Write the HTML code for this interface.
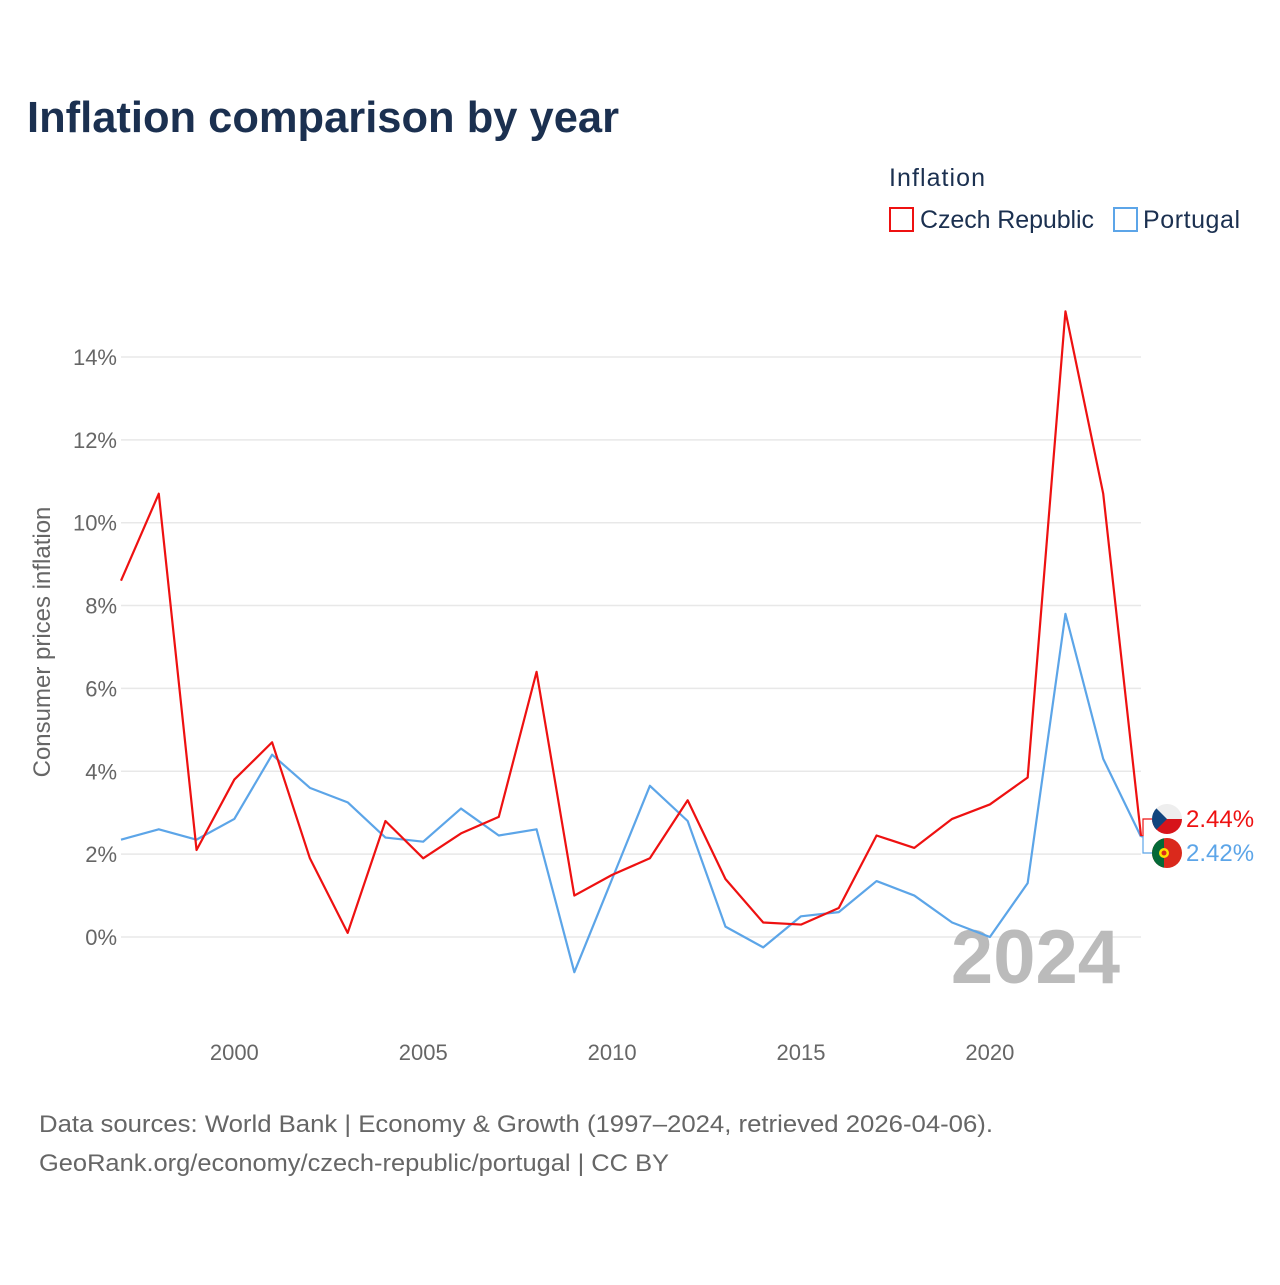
<!DOCTYPE html>
<html><head><meta charset="utf-8"><style>
body{margin:0;background:#fff;width:1280px;height:1280px;overflow:hidden;font-family:"Liberation Sans",sans-serif}
</style></head><body>
<svg width="1280" height="1280">
<text x="27" y="132" font-size="44" font-weight="bold" fill="#1b3050" textLength="592" lengthAdjust="spacingAndGlyphs">Inflation comparison by year</text>
<text x="889" y="186" font-size="25" fill="#1b3050" textLength="96">Inflation</text>
<g><rect x="890" y="208" width="23" height="23" fill="none" stroke="#ee1111" stroke-width="2"/><text x="920" y="228" font-size="25" fill="#1b3050" textLength="174">Czech Republic</text></g>
<g><rect x="1114" y="208" width="23" height="23" fill="none" stroke="#5ca5e8" stroke-width="2"/><text x="1143" y="228" font-size="25" fill="#1b3050" textLength="97">Portugal</text></g>
<text transform="translate(50,642) rotate(-90)" text-anchor="middle" font-size="24" fill="#666">Consumer prices inflation</text>
<g id="grid"></g><g id="yt"></g><g id="xt"></g>
<text x="1120" y="983" text-anchor="end" font-size="76" font-weight="bold" fill="#bbb">2024</text>
<g id="lines"></g>
<text x="39" y="1132" font-size="24" fill="#666" textLength="954" lengthAdjust="spacingAndGlyphs">Data sources: World Bank | Economy &amp; Growth (1997–2024, retrieved 2026-04-06).</text>
<text x="39" y="1171" font-size="24" fill="#666" textLength="630" lengthAdjust="spacingAndGlyphs">GeoRank.org/economy/czech-republic/portugal | CC BY</text>
</svg>
<script>
const years=[1997,1998,1999,2000,2001,2002,2003,2004,2005,2006,2007,2008,2009,2010,2011,2012,2013,2014,2015,2016,2017,2018,2019,2020,2021,2022,2023,2024];
const czech=[8.6,10.7,2.1,3.8,4.7,1.9,0.1,2.8,1.9,2.5,2.9,6.4,1.0,1.5,1.9,3.3,1.4,0.35,0.3,0.7,2.45,2.15,2.85,3.2,3.85,15.1,10.7,2.44];
const portugal=[2.35,2.6,2.35,2.85,4.4,3.6,3.25,2.4,2.3,3.1,2.45,2.6,-0.85,1.4,3.65,2.8,0.25,-0.25,0.5,0.6,1.35,1.0,0.35,0.0,1.3,7.8,4.3,2.42];
const yTicks=[0,2,4,6,8,10,12,14];
const xTicks=[2000,2005,2010,2015,2020];
const NS="http://www.w3.org/2000/svg";
const X=y=>121+(y-1997)*(1141-121)/27;
const Y=v=>937-v*41.43;
function mk(t,a,p){const e=document.createElementNS(NS,t);for(const k in a)e.setAttribute(k,a[k]);p.appendChild(e);return e;}
const grid=document.getElementById('grid'),yt=document.getElementById('yt'),xt=document.getElementById('xt'),lines=document.getElementById('lines');
yTicks.forEach(v=>{
 const l=mk('line',{x1:121,x2:1141,y1:Y(v),y2:Y(v),stroke:'#e8e8e8','stroke-width':1.5},grid);
 
 
 const t=mk('text',{x:117,y:Y(v)+8,'text-anchor':'end','font-size':22,fill:'#666'},yt);
 t.textContent=v+'%';
 
 
});
xTicks.forEach(v=>{
 const t=mk('text',{x:X(v),y:1060,'text-anchor':'middle','font-size':22,fill:'#666'},xt);
 t.textContent=v;
 
 
});
function line(d,c,n){
 const p=mk('polyline',{points:d.map((v,i)=>X(years[i])+','+Y(v)).join(' '),fill:'none',stroke:c,'stroke-width':2.2,'stroke-linejoin':'round'},lines);
 
 
}
line(portugal,'#5ca5e8','portugal-line');
line(czech,'#ee1111','czech-line');
const last=years.length-1;
function endLabel(v,c,fy,n,flag){
 mk('polyline',{points:`${X(years[last])},${Y(v)} ${X(years[last])+2},${Y(v)} ${X(years[last])+2},${fy} 1152,${fy}`,fill:'none',stroke:c,'stroke-width':1.2},lines);
 const g=mk('g',{},lines);
 
 
 flag(g,1167,fy);
 const t=mk('text',{x:1186,y:fy+8,'font-size':24,fill:c},g);
 t.textContent=v.toFixed(2)+'%';
}
endLabel(czech[last],'#ee1111',819,'czech-end-label',(g,cx,cy)=>{
 mk('clipPath',{id:'c1'},g);const cp=g.lastChild;mk('circle',{cx,cy,r:15},cp);
 const h=mk('g',{'clip-path':'url(#c1)'},g);
 mk('rect',{x:cx-15,y:cy-15,width:30,height:15,fill:'#eee'},h);
 mk('rect',{x:cx-15,y:cy,width:30,height:15,fill:'#d7141a'},h);
 mk('polygon',{points:`${cx-15},${cy-15} ${cx},${cy} ${cx-15},${cy+15}`,fill:'#11457e'},h);
});
endLabel(portugal[last],'#5ca5e8',853,'portugal-end-label',(g,cx,cy)=>{
 mk('clipPath',{id:'c2'},g);const cp=g.lastChild;mk('circle',{cx,cy,r:15},cp);
 const h=mk('g',{'clip-path':'url(#c2)'},g);
 mk('rect',{x:cx-15,y:cy-15,width:30,height:30,fill:'#da291c'},h);
 mk('rect',{x:cx-15,y:cy-15,width:12,height:30,fill:'#046a38'},h);
 mk('circle',{cx:cx-3,cy,r:5,fill:'#ffe000'},h);
 mk('circle',{cx:cx-3,cy,r:2.5,fill:'#da291c'},h);
});
</script>
</body></html>
